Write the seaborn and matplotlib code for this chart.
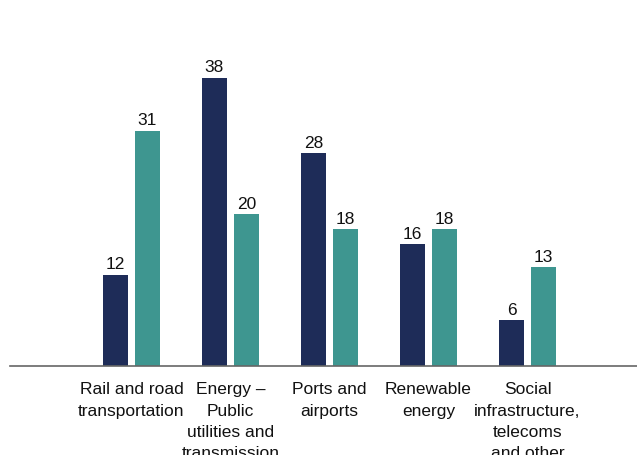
import matplotlib
matplotlib.use("Agg")
import matplotlib.pyplot as plt
import seaborn as sns
import pandas as pd

categories = [
    "Rail and road\ntransportation",
    "Energy –\nPublic\nutilities and\ntransmission",
    "Ports and\nairports",
    "Renewable\nenergy",
    "Social\ninfrastructure,\ntelecoms\nand other",
]
series_names = ["Series 1", "Series 2"]
series_1 = [12, 38, 28, 16, 6]
series_2 = [31, 20, 18, 18, 13]
colors = ["#1e2c58", "#3e9690"]

df = pd.DataFrame({
    "category": categories * 2,
    "series": [series_names[0]] * len(categories) + [series_names[1]] * len(categories),
    "value": series_1 + series_2,
})

sns.set_theme(style="white")
plt.rcParams["font.family"] = ["Liberation Sans", "DejaVu Sans"]

W, H = 637, 456
fig = plt.figure(figsize=(W / 100, H / 100), dpi=100)
# axes: bottom at baseline, spanning to the right edge
ax = fig.add_axes([10 / W, (H - 366.5) / H, 1 - 10 / W, 366.5 / H])

sns.barplot(
    data=df, x="category", y="value", hue="series",
    palette=colors, width=0.6465, gap=0.219, saturation=1,
    linewidth=0, legend=False, ax=ax,
)

for cont in ax.containers:
    ax.bar_label(cont, padding=2.5, fontsize=12.5, color="#111111")

ax.set_xlim(-1.227, 5.106)
ax.set_ylim(0, 48.4)
ax.set_xlabel("")
ax.set_ylabel("")
ax.set_yticks([])
for s in ["top", "right", "left"]:
    ax.spines[s].set_visible(False)
ax.spines["bottom"].set_color("#666666")
ax.spines["bottom"].set_linewidth(1.2)
ax.tick_params(axis="x", length=0, pad=11.5, labelsize=12.5, colors="#111111")
for t in ax.get_xticklabels():
    t.set_linespacing(1.52)
    t.set_verticalalignment("top")

fig.savefig("out.png", dpi=100)
